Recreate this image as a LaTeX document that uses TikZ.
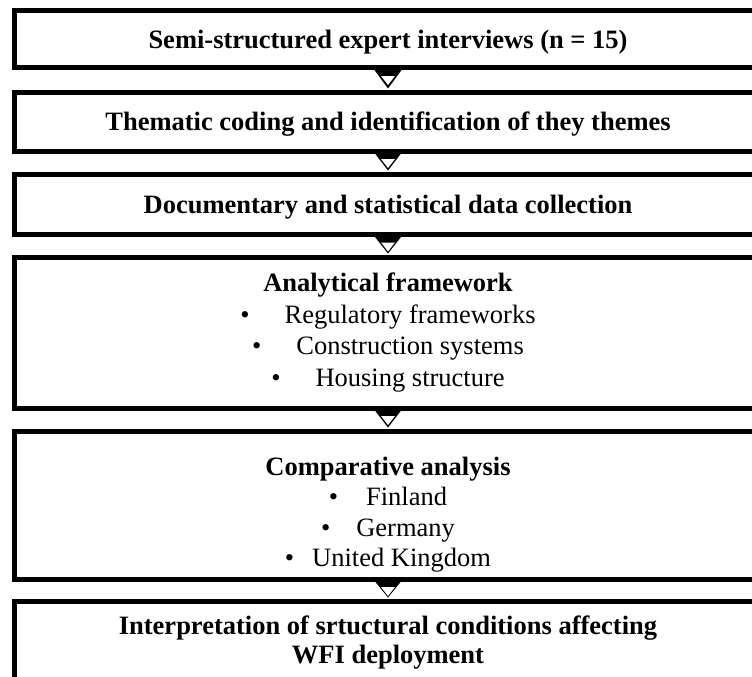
\documentclass[tikz,border=0pt]{standalone}
\usepackage{fontspec}
\setmainfont{Liberation Serif}
\tikzset{
  stage/.style={draw, line width=5pt, outer sep=0pt, inner sep=0pt,
    minimum width=747pt, align=center,
    font=\fontsize{26.5}{31.5}\selectfont},
}
\begin{document}
\begin{tikzpicture}[x=1pt,y=-1pt]
  \useasboundingbox (0,0) rectangle (752,677);
  \clip (0,0) rectangle (752,677);
  \node[stage, minimum height=57.5pt, text depth=0pt] (s1) at (388,39.25) {\textbf{Semi-structured expert interviews (n = 15)}};
  \node[stage, minimum height=59pt, text depth=0pt] (s2) at (388,121.5) {\textbf{Thematic coding and identification of they themes}};
  \node[stage, minimum height=60.5pt, text depth=0pt] (s3) at (388,204.25) {\textbf{Documentary and statistical data collection}};
  \node[stage, minimum height=151pt] (s4) at (388,332.5) {\textbf{Analytical framework}\\
    \textbullet\hspace{35pt}Regulatory frameworks\\
    \textbullet\hspace{35pt}Construction systems\\
    \textbullet\hspace{35pt}Housing structure};
  \node[stage, minimum height=148pt, font=\fontsize{26.5}{30.5}\selectfont] (s5) at (388,505) {\rule{0pt}{38pt}\textbf{Comparative analysis}\\
    \textbullet\hspace{28pt}Finland\\
    \textbullet\hspace{26pt}Germany\\
    \textbullet\hspace{18pt}United Kingdom};
  \node[stage, minimum height=84pt, font=\fontsize{26.5}{29}\selectfont] (s6) at (388,643) {\textbf{Interpretation of srtuctural conditions affecting}\\
    \textbf{WFI deployment}};
  % arrowheads between the stages
  \foreach \a/\b in {s1/s2,s2/s3,s3/s4,s4/s5,s5/s6}{
    \fill ([xshift=-15pt]\a.south) -- ([xshift=15pt]\a.south) -- ([yshift=3.5pt]\b.north) -- cycle;
    \fill[white] ([xshift=-7pt,yshift=-8pt]\a.south) -- ([xshift=7pt,yshift=-8pt]\a.south)
      -- ([yshift=-17pt]\a.south) -- cycle;
  }
\end{tikzpicture}
\end{document}
